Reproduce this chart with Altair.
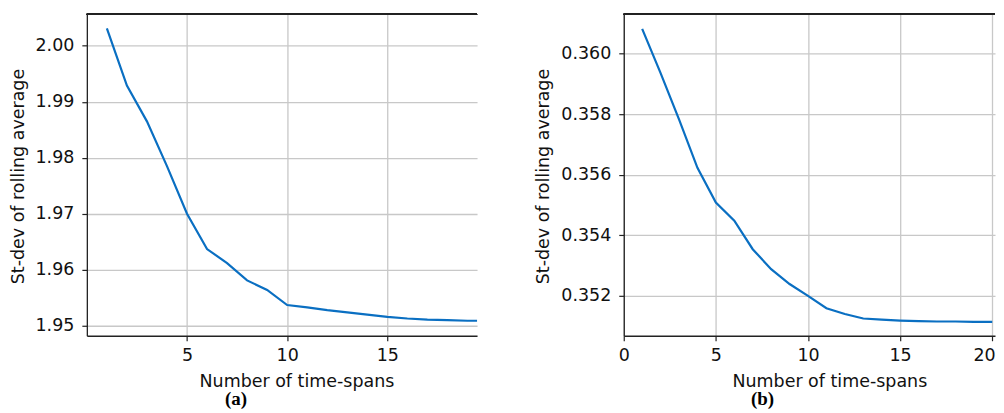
import altair as alt
import pandas as pd

# ---- data ----
x_a = list(range(1, 21))
y_a = [2.0031, 1.9929, 1.9865, 1.9785, 1.9700, 1.9637, 1.9612, 1.9581, 1.9564, 1.9537,
       1.9533, 1.9528, 1.9524, 1.9520, 1.9516, 1.9513, 1.9511, 1.9510, 1.9509, 1.9509]
x_b = list(range(1, 21))
y_b = [0.36082, 0.35936, 0.35783, 0.35623, 0.35508, 0.35448, 0.35354, 0.35288, 0.35239, 0.35200,
       0.35159, 0.35140, 0.35125, 0.35121, 0.35118, 0.35116, 0.35115, 0.35115, 0.35114, 0.35114]
ticks_a_x = [5, 10, 15]
ticks_a_y = [1.95, 1.96, 1.97, 1.98, 1.99, 2.00]
ticks_b_x = [0, 5, 10, 15, 20]
ticks_b_y = [0.352, 0.354, 0.356, 0.358, 0.360]

df_a = pd.DataFrame({"n": x_a, "sd": y_a})
df_b = pd.DataFrame({"n": x_b, "sd": y_b})

LINE = "#0a6fc2"
FONT = "DejaVu Sans"
FS = 17.5
H = 322


def panel(df, w, xdom, ydom, xticks, yticks, yfmt, xtitle_x, ytitle_x, label, label_dx):
    base = alt.Chart(df)
    line = base.mark_line(color=LINE, strokeWidth=2.2, clip=True).encode(
        x=alt.X("n:Q",
                scale=alt.Scale(domain=xdom, nice=False, zero=False),
                axis=alt.Axis(values=xticks, title="Number of time-spans",
                              titleX=xtitle_x, titleY=51, titleBaseline="alphabetic",
                              titleAlign="center", labelPadding=6, labelFlush=False,
                              labelAlign={"condition": {"test": "datum.value >= 20",
                                                        "value": "right"},
                                          "value": "center"},
                              labelOffset={"condition": {"test": "datum.value >= 20",
                                                         "value": 3},
                                           "value": 0})),
        y=alt.Y("sd:Q",
                scale=alt.Scale(domain=ydom, nice=False, zero=False),
                axis=alt.Axis(values=yticks, format=yfmt, title="St-dev of rolling average",
                              titleX=ytitle_x, titleY=162, titleBaseline="middle",
                              titleAlign="center", titleAngle=270, labelPadding=8)),
    )
    top = base.mark_rule(color="#222222", strokeWidth=1.3).encode(
        x=alt.value(0), x2=alt.value(w), y=alt.value(0)
    )
    return alt.layer(line, top).properties(
        width=w, height=H,
        title=alt.TitleParams(label, orient="bottom", font="Liberation Serif",
                              fontWeight="bold", fontSize=19, color="#000000",
                              anchor="middle", dx=label_dx, offset=0),
    )


left = panel(df_a, 391, [0, 19.48], [1.94822, 2.0056], ticks_a_x, ticks_a_y, ".2f",
             210, -68, "(a)", -46)
right = panel(df_b, 372, [0, 20.15], [0.35068, 0.36130], ticks_b_x, ticks_b_y, ".3f",
              206, -80, "(b)", -47)

chart = alt.hconcat(left, right, spacing=57).properties(
    padding={"left": 2, "top": 5, "right": 0, "bottom": 0}
).configure_view(stroke=None).configure_axis(
    labelFont=FONT, titleFont=FONT, labelFontSize=FS, titleFontSize=FS,
    labelColor="#111111", titleColor="#111111", titleFontWeight="normal",
    domainColor="#222222", domainWidth=1.3, tickColor="#222222", tickSize=5, tickWidth=1.2,
    gridColor="#c8c8c8", gridWidth=1.3,
).configure_concat(spacing=57)

chart.save("out.html", embed_options={"renderer": "svg", "actions": False})
